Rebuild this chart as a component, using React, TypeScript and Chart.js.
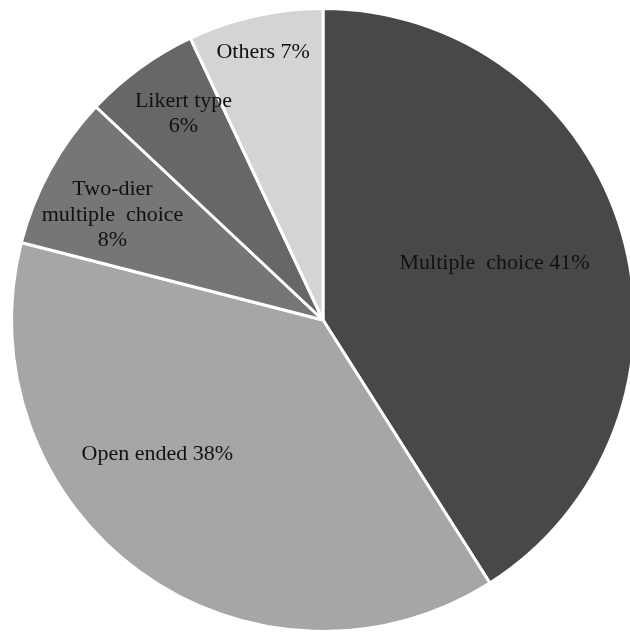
import React, { useEffect, useRef } from "react";
import { Chart, registerables } from "chart.js";

Chart.register(...registerables);

const categories = ["Multiple choice", "Open ended", "Two-dier multiple choice", "Likert type", "Others"];
const values = [41, 38, 8, 6, 7];
const labelLines = [
  ["Multiple  choice 41%"],
  ["Open ended 38%"],
  ["Two-dier", "multiple  choice", "8%"],
  ["Likert type", "6%"],
  ["Others 7%"],
];
const colors = ["#484848", "#a6a6a6", "#767676", "#676767", "#d4d4d4"];
// label placement: fraction along slice angle, fraction of radius
const labelAngleFrac = [0.486, 0.61, 0.42, 0.59, 0.5];
const labelRadiusFrac = [0.58, 0.684, 0.755, 0.8, 0.88];

const labelPlugin = {
  id: "sliceLabels",
  afterDatasetsDraw(chart: any) {
    const ctx = chart.ctx;
    const meta = chart.getDatasetMeta(0);
    ctx.save();
    ctx.font = "22px 'Liberation Serif', 'Times New Roman', serif";
    ctx.fillStyle = "#111111";
    ctx.textAlign = "center";
    ctx.textBaseline = "middle";
    meta.data.forEach((arc: any, i: number) => {
      const { x, y, startAngle, endAngle, outerRadius } = arc.getProps(
        ["x", "y", "startAngle", "endAngle", "outerRadius"],
        true
      );
      const a = startAngle + (endAngle - startAngle) * labelAngleFrac[i];
      const r = outerRadius * labelRadiusFrac[i];
      const cx = x + Math.cos(a) * r;
      const cy = y + Math.sin(a) * r;
      const lines = labelLines[i];
      const lh = 25.5;
      lines.forEach((ln, k) => {
        ctx.fillText(ln, cx, cy + (k - (lines.length - 1) / 2) * lh);
      });
    });
    ctx.restore();
  },
};

export default function App() {
  const ref = useRef<HTMLCanvasElement>(null);
  useEffect(() => {
    if (!ref.current) return;
    const chart = new Chart(ref.current, {
      type: "pie",
      data: {
        labels: categories,
        datasets: [
          {
            data: values,
            backgroundColor: colors,
            borderColor: "#ffffff",
            borderWidth: 3,
          },
        ],
      },
      options: {
        animation: false,
        responsive: true,
        maintainAspectRatio: false,
        layout: { padding: { left: 10, right: 11, top: 6, bottom: 6 } },
        plugins: {
          legend: { display: false },
          tooltip: { enabled: false },
        },
      },
      plugins: [labelPlugin],
    });
    return () => chart.destroy();
  }, []);
  return (
    <div
      style={{
        position: "fixed",
        left: 0,
        top: 0,
        width: 630,
        height: 637,
        overflow: "hidden",
        background: "#ffffff",
      }}
    >
      <div style={{ position: "absolute", left: 0, top: 0, width: 647, height: 640 }}>
        <canvas ref={ref} />
      </div>
    </div>
  );
}
